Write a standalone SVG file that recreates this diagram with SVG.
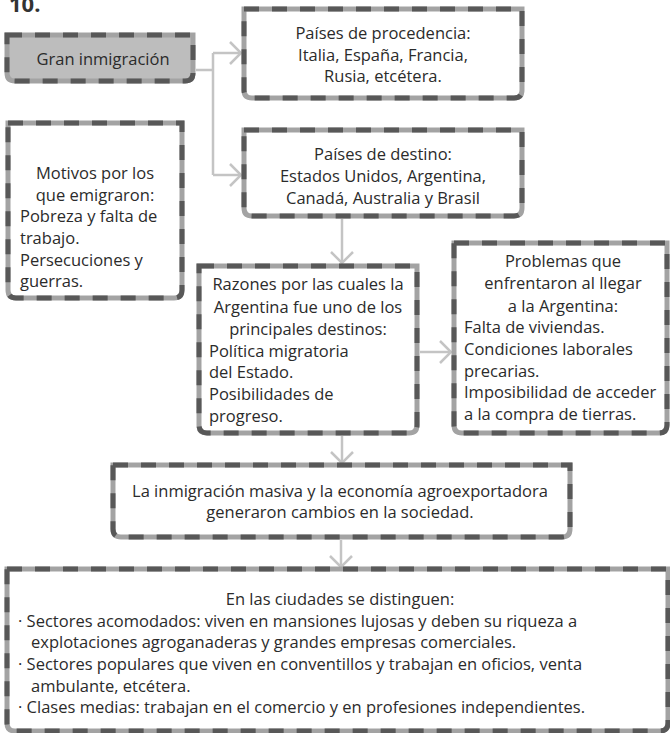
<svg xmlns="http://www.w3.org/2000/svg" width="670" height="733" viewBox="0 0 670 733">
<defs>
<style>
.base{fill:#fff;stroke:#a3a3a3;stroke-width:5}
.dash{fill:none;stroke:#585858;stroke-width:5;stroke-dasharray:15 13}
.t{font-family:"Open Sans","Liberation Sans",sans-serif;font-size:16.5px;fill:#2b2b2b}
.c{text-anchor:middle}
.conn{fill:none;stroke:#c4c4c4;stroke-width:2.5}
</style>
<marker id="ah" viewBox="0 0 13 24" refX="12" refY="12" markerWidth="13" markerHeight="24" markerUnits="userSpaceOnUse" orient="auto">
<path d="M1,1 L12,12 L1,23" fill="none" stroke="#c4c4c4" stroke-width="2.5"/>
</marker>
</defs>
<rect width="670" height="733" fill="#fff"/>
<text x="9" y="12" style="font-family:'Open Sans','Liberation Sans',sans-serif;font-size:22px;font-weight:bold;fill:#333">10.</text>

<g id="connectors">
<path class="conn" d="M196,70 H213 M213,53 V175"/>
<path class="conn" d="M213,53 H241" marker-end="url(#ah)"/>
<path class="conn" d="M213,175 H241" marker-end="url(#ah)"/>
<path class="conn" d="M342,219 V263" marker-end="url(#ah)"/>
<path class="conn" d="M420,352 H451" marker-end="url(#ah)"/>
<path class="conn" d="M342,436 V463" marker-end="url(#ah)"/>
<path class="conn" d="M341,540 V567" marker-end="url(#ah)"/>
</g>

<g id="gran">
<path class="base" style="fill:#bdbdbd" d="M7,35 H193 V73 Q193,81 185,81 H15 Q7,81 7,73 Z"/>
<path class="dash" d="M7,35 H193 V73 Q193,81 185,81 H15 Q7,81 7,73 Z"/>
<text class="t c" x="103" y="65">Gran inmigración</text>
</g>

<g id="procedencia">
<path class="base" d="M244,9 H522 V90 Q522,98 514,98 H252 Q244,98 244,90 Z"/>
<path class="dash" d="M244,9 H522 V90 Q522,98 514,98 H252 Q244,98 244,90 Z"/>
<text class="t c" x="383" y="39">Países de procedencia:</text>
<text class="t c" x="383" y="61">Italia, España, Francia,</text>
<text class="t c" x="383" y="82">Rusia, etcétera.</text>
</g>

<g id="destino">
<path class="base" d="M244,130 H522 V208 Q522,216 514,216 H252 Q244,216 244,208 Z"/>
<path class="dash" d="M244,130 H522 V208 Q522,216 514,216 H252 Q244,216 244,208 Z"/>
<text class="t c" x="383" y="160">Países de destino:</text>
<text class="t c" x="383" y="182">Estados Unidos, Argentina,</text>
<text class="t c" x="383" y="204">Canadá, Australia y Brasil</text>
</g>

<g id="motivos">
<path class="base" d="M8,123 H182 V290 Q182,298 174,298 H16 Q8,298 8,290 Z"/>
<path class="dash" d="M8,123 H182 V290 Q182,298 174,298 H16 Q8,298 8,290 Z"/>
<text class="t c" x="95" y="179">Motivos por los</text>
<text class="t c" x="95" y="201">que emigraron:</text>
<text class="t" x="20" y="222">Pobreza y falta de</text>
<text class="t" x="20" y="244">trabajo.</text>
<text class="t" x="20" y="266">Persecuciones y</text>
<text class="t" x="20" y="287">guerras.</text>
</g>

<g id="razones">
<path class="base" d="M199,266 H417 V425 Q417,433 409,433 H207 Q199,433 199,425 Z"/>
<path class="dash" d="M199,266 H417 V425 Q417,433 409,433 H207 Q199,433 199,425 Z"/>
<text class="t c" x="308" y="290">Razones por las cuales la</text>
<text class="t c" x="308" y="313">Argentina fue uno de los</text>
<text class="t c" x="308" y="335">principales destinos:</text>
<text class="t" x="209" y="357">Política migratoria</text>
<text class="t" x="209" y="378">del Estado.</text>
<text class="t" x="209" y="400">Posibilidades de</text>
<text class="t" x="209" y="422">progreso.</text>
</g>

<g id="problemas">
<path class="base" d="M454,243 H667 V425 Q667,433 659,433 H462 Q454,433 454,425 Z"/>
<path class="dash" d="M454,243 H667 V425 Q667,433 659,433 H462 Q454,433 454,425 Z"/>
<text class="t c" x="563" y="267">Problemas que</text>
<text class="t c" x="563" y="289">enfrentaron al llegar</text>
<text class="t c" x="563" y="312">a la Argentina:</text>
<text class="t" x="464" y="333">Falta de viviendas.</text>
<text class="t" x="464" y="355">Condiciones laborales</text>
<text class="t" x="464" y="377">precarias.</text>
<text class="t" x="464" y="398">Imposibilidad de acceder</text>
<text class="t" x="464" y="420">a la compra de tierras.</text>
</g>

<g id="cambios">
<path class="base" d="M113,465 H570 V529 Q570,537 562,537 H121 Q113,537 113,529 Z"/>
<path class="dash" d="M113,465 H570 V529 Q570,537 562,537 H121 Q113,537 113,529 Z"/>
<text class="t c" x="340" y="497">La inmigración masiva y la economía agroexportadora</text>
<text class="t c" x="340" y="518">generaron cambios en la sociedad.</text>
</g>

<g id="ciudades">
<path class="base" d="M7,569 H668 V723 Q668,731 660,731 H15 Q7,731 7,723 Z"/>
<path class="dash" d="M7,569 H668 V723 Q668,731 660,731 H15 Q7,731 7,723 Z"/>
<text class="t c" x="340" y="605">En las ciudades se distinguen:</text>
<text class="t" x="18" y="627">· Sectores acomodados: viven en mansiones lujosas y deben su riqueza a</text>
<text class="t" x="31" y="648">explotaciones agroganaderas y grandes empresas comerciales.</text>
<text class="t" x="18" y="670">· Sectores populares que viven en conventillos y trabajan en oficios, venta</text>
<text class="t" x="31" y="692">ambulante, etcétera.</text>
<text class="t" x="18" y="713">· Clases medias: trabajan en el comercio y en profesiones independientes.</text>
</g>
</svg>
